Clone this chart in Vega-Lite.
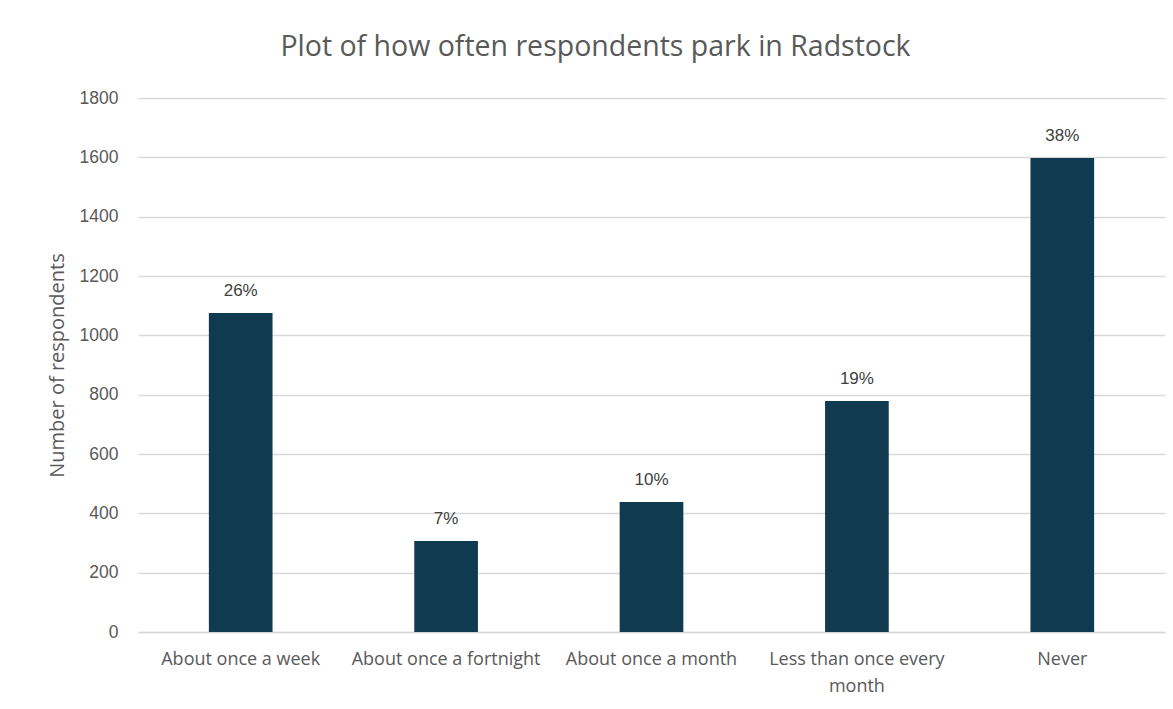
{
  "$schema": "https://vega.github.io/schema/vega-lite/v6.json",
  "width": 1027,
  "height": 534,
  "autosize": {"type": "none"},
  "padding": {"left": 138, "top": 98, "right": 8, "bottom": 77},
  "background": "white",
  "title": {
    "text": "Plot of how often respondents park in Radstock",
    "fontSize": 28.5,
    "font": "Open Sans",
    "fontWeight": "normal",
    "color": "#595959",
    "anchor": "middle",
    "frame": "group",
    "dx": -56,
    "offset": 28
  },
  "data": {
    "values": [
      {"frequency": "About once a week", "count": 1075, "pct": "26%"},
      {"frequency": "About once a fortnight", "count": 307, "pct": "7%"},
      {"frequency": "About once a month", "count": 438, "pct": "10%"},
      {"frequency": "Less than once every month", "count": 779, "pct": "19%"},
      {"frequency": "Never", "count": 1598, "pct": "38%"}
    ]
  },
  "encoding": {
    "x": {
      "field": "frequency",
      "type": "nominal",
      "sort": null,
      "scale": {"paddingInner": 0.69, "paddingOuter": 0.345},
      "axis": {
        "title": null,
        "labelAngle": 0,
        "labelFont": "Open Sans",
        "labelFontSize": 18,
        "labelColor": "#595959",
        "labelPadding": 18,
        "labelLineHeight": 27,
        "labelLimit": 300,
        "labelOverlap": false,
        "ticks": false,
        "domainColor": "#d9d9d9",
        "domainWidth": 1.5,
        "labelExpr": "datum.label == 'Less than once every month' ? ['Less than once every', 'month'] : datum.label"
      }
    },
    "y": {
      "field": "count",
      "type": "quantitative",
      "scale": {"domain": [0, 1800]},
      "axis": {
        "title": "Number of respondents",
        "titleFont": "Open Sans",
        "titleFontSize": 20,
        "titleFontWeight": "normal",
        "titleColor": "#595959",
        "titlePadding": 12,
        "values": [0, 200, 400, 600, 800, 1000, 1200, 1400, 1600, 1800],
        "format": "d",
        "labelFont": "Liberation Sans",
        "labelFontSize": 17.5,
        "labelColor": "#595959",
        "labelPadding": 20,
        "ticks": false,
        "domain": false,
        "gridColor": "#d9d9d9",
        "gridWidth": 1.5
      }
    }
  },
  "layer": [
    {"mark": {"type": "bar", "color": "#0f3a4f"}},
    {
      "mark": {
        "type": "text",
        "dy": -22,
        "font": "Liberation Sans",
        "fontSize": 17,
        "color": "#404040"
      },
      "encoding": {"text": {"field": "pct"}}
    }
  ],
  "config": {"view": {"stroke": null}}
}
